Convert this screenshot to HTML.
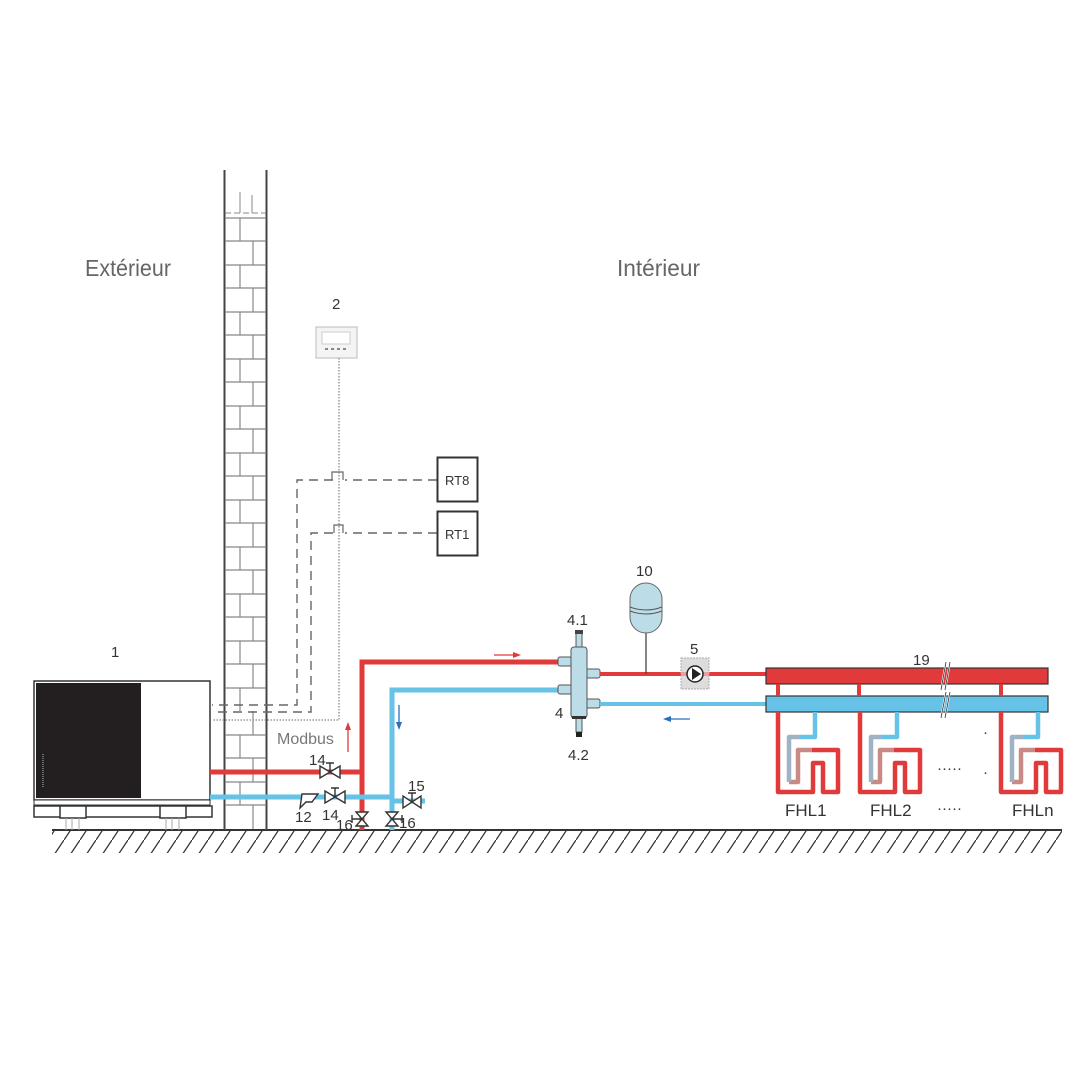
<!DOCTYPE html>
<html><head><meta charset="utf-8"><style>
html,body{margin:0;padding:0;background:#fff;}
svg{display:block;font-family:"Liberation Sans",sans-serif;}
</style></head><body>
<svg width="1080" height="1080" viewBox="0 0 1080 1080" xmlns="http://www.w3.org/2000/svg">
<defs>
<pattern id="hatch" width="16" height="24" patternUnits="userSpaceOnUse">
<line x1="0" y1="24" x2="16" y2="0" stroke="#333" stroke-width="1.3"/>
</pattern>
<g id="loop" fill="none" stroke-linejoin="round" stroke-width="4.5">
<path d="M778,712 V792 H813 V763 H823 V792 H838 V750 H812" stroke="#e03a3a"/>
<path d="M812,750 H798 V782 H789" stroke="#c98a86"/>
<path d="M789,782 V737 H800" stroke="#9fb3c4"/>
<path d="M800,737 H815 V712" stroke="#66c2e6"/>
</g>
</defs>

<text x="85" y="276" font-size="23" fill="#666" textLength="86" lengthAdjust="spacingAndGlyphs">Extérieur</text>
<text x="617" y="276" font-size="23" fill="#666" textLength="83" lengthAdjust="spacingAndGlyphs">Intérieur</text>

<rect x="52" y="831" width="1010" height="22" fill="url(#hatch)"/>
<rect x="52" y="829" width="1010" height="2" fill="#333"/>

<g stroke="#444" fill="none">
<line x1="224.5" y1="170" x2="224.5" y2="830" stroke-width="2"/>
<line x1="266.5" y1="170" x2="266.5" y2="830" stroke-width="2"/>
<line x1="240" y1="192" x2="240" y2="213" stroke="#888"/>
<line x1="252" y1="195" x2="252" y2="213" stroke="#888"/>
<line x1="225" y1="213" x2="266" y2="213" stroke="#888" stroke-dasharray="6,3"/>
</g>
<g stroke="#888" stroke-width="1.2">
<line x1="225" y1="218" x2="266" y2="218"/>
<line x1="225" y1="241" x2="266" y2="241"/><line x1="225" y1="265" x2="266" y2="265"/>
<line x1="225" y1="288" x2="266" y2="288"/><line x1="225" y1="312" x2="266" y2="312"/>
<line x1="225" y1="335" x2="266" y2="335"/><line x1="225" y1="359" x2="266" y2="359"/>
<line x1="225" y1="382" x2="266" y2="382"/><line x1="225" y1="406" x2="266" y2="406"/>
<line x1="225" y1="429" x2="266" y2="429"/><line x1="225" y1="453" x2="266" y2="453"/>
<line x1="225" y1="476" x2="266" y2="476"/><line x1="225" y1="500" x2="266" y2="500"/>
<line x1="225" y1="523" x2="266" y2="523"/><line x1="225" y1="547" x2="266" y2="547"/>
<line x1="225" y1="570" x2="266" y2="570"/><line x1="225" y1="594" x2="266" y2="594"/>
<line x1="225" y1="617" x2="266" y2="617"/><line x1="225" y1="641" x2="266" y2="641"/>
<line x1="225" y1="664" x2="266" y2="664"/><line x1="225" y1="688" x2="266" y2="688"/>
<line x1="225" y1="735" x2="266" y2="735"/><line x1="225" y1="758" x2="266" y2="758"/>
<line x1="225" y1="782" x2="266" y2="782"/><line x1="225" y1="805" x2="266" y2="805"/>
<path d="M240,218V241 M253,241V265 M240,265V288 M253,288V312 M240,312V335 M253,335V359 M240,359V382 M253,382V406 M240,406V429 M253,429V453 M240,453V476 M253,476V500 M240,500V523 M253,523V547 M240,547V570 M253,570V594 M240,594V617 M253,617V641 M240,641V664 M253,664V688 M240,688V711 M253,711V735 M240,735V758 M253,758V782 M240,782V805 M253,805V829" fill="none"/>
</g>

<text x="332" y="309" font-size="15" fill="#333">2</text>
<rect x="316" y="327" width="41" height="31" fill="#f4f4f4" stroke="#bbb"/>
<rect x="322" y="332" width="28" height="12" fill="#fff" stroke="#ccc"/>
<g fill="#888"><rect x="325" y="348" width="3" height="2"/><rect x="331" y="348" width="3" height="2"/><rect x="337" y="348" width="3" height="2"/><rect x="343" y="348" width="3" height="2"/></g>
<path d="M339,358 V720 H212" fill="none" stroke="#888" stroke-width="1.3" stroke-dasharray="1.5,1.5"/>

<g fill="none" stroke="#666" stroke-width="1.4" stroke-dasharray="9,6">
<path d="M437,480 H345 M333,480 H297 V705 H212"/>
<path d="M437,533 H345 M333,533 H311 V712 H212"/>
</g>
<path d="M332,480 V472 H343 V480 M334,533 V525 H343 V533" fill="none" stroke="#666" stroke-width="1.2"/>
<rect x="437.5" y="457.5" width="40" height="44" fill="#fff" stroke="#333" stroke-width="2"/>
<text x="445" y="485" font-size="13" fill="#333">RT8</text>
<rect x="437.5" y="511.5" width="40" height="44" fill="#fff" stroke="#333" stroke-width="2"/>
<text x="445" y="539" font-size="13" fill="#333">RT1</text>
<text x="277" y="744" font-size="16" fill="#777">Modbus</text>

<text x="111" y="657" font-size="15" fill="#333">1</text>
<rect x="34" y="681" width="176" height="119" fill="#fff" stroke="#333" stroke-width="1.5"/>
<rect x="36" y="683" width="105" height="115" fill="#231f20"/>
<line x1="43" y1="754" x2="43" y2="788" stroke="#888" stroke-width="1.5" stroke-dasharray="1,1"/>
<rect x="34" y="800" width="176" height="5" fill="#fff" stroke="#333"/>
<rect x="34" y="806" width="178" height="11" fill="#fff" stroke="#333" stroke-width="1.5"/>
<rect x="60" y="806" width="26" height="12" fill="#fff" stroke="#333" stroke-width="1.5"/>
<rect x="160" y="806" width="26" height="12" fill="#fff" stroke="#333" stroke-width="1.5"/>
<g stroke="#aaa"><path d="M66,818V830 M72,818V830 M79,818V830 M166,818V830 M172,818V830 M179,818V830"/></g>

<g fill="none" stroke-width="5">
<path d="M210,772 H362" stroke="#e03a3a"/>
<path d="M362,830 V662 H560" stroke="#e03a3a"/>
<path d="M210,797 H392" stroke="#66c2e6"/>
<path d="M392,830 V690 H560" stroke="#66c2e6"/>
<path d="M392,801 H425" stroke="#66c2e6"/>
</g>
<g stroke-width="1.3">
<line x1="348" y1="752" x2="348" y2="725" stroke="#e03a3a"/><path d="M345,730 L348,722 L351,730Z" fill="#e03a3a"/>
<line x1="494" y1="655" x2="516" y2="655" stroke="#e03a3a"/><path d="M513,652 L521,655 L513,658Z" fill="#e03a3a"/>
<line x1="399" y1="705" x2="399" y2="725" stroke="#2a6fb8"/><path d="M396,722 L399,730 L402,722Z" fill="#2a6fb8"/>
<line x1="690" y1="719" x2="668" y2="719" stroke="#2a6fb8"/><path d="M671,716 L663,719 L671,722Z" fill="#2a6fb8"/>
</g>
<g fill="#fff" stroke="#333" stroke-width="1.4">
<path d="M320,766 L320,778 L340,766 L340,778Z"/><path d="M330,772 V763 M326,763 H334" fill="none"/>
<path d="M325,791 L325,803 L345,791 L345,803Z"/><path d="M335,797 V788 M331,788 H339" fill="none"/>
<path d="M403,796 L403,808 L421,796 L421,808Z"/><path d="M412,802 V793 M408,793 H416" fill="none"/>
<path d="M356,812 L368,812 L356,826 L368,826Z"/><path d="M352,815 V823 M352,819 H362" fill="none"/>
<path d="M386,812 L398,812 L386,826 L398,826Z"/><path d="M402,815 V823 M392,819 H402" fill="none"/>
<path d="M302,794 H318 L312,802 H306 L300,808 Z"/>
</g>
<g font-size="15" fill="#333">
<text x="309" y="765">14</text><text x="322" y="820">14</text>
<text x="295" y="822">12</text><text x="336" y="830">16</text>
<text x="399" y="828">16</text><text x="408" y="791">15</text>
</g>

<g stroke="#555" stroke-width="1">
<rect x="558" y="657" width="14" height="9" fill="#bcdde8" rx="2"/>
<rect x="558" y="685" width="14" height="9" fill="#bcdde8" rx="2"/>
<rect x="586" y="669" width="14" height="9" fill="#bcdde8" rx="2"/>
<rect x="586" y="699" width="14" height="9" fill="#bcdde8" rx="2"/>
<rect x="571" y="647" width="16" height="71" fill="#bcdde8" rx="3"/>
<rect x="576" y="633" width="6" height="14" fill="#bcdde8"/>
<rect x="576" y="718" width="6" height="14" fill="#bcdde8"/>
</g>
<rect x="575" y="630" width="8" height="4" fill="#444"/>
<rect x="576" y="732" width="6" height="5" fill="#222"/>
<rect x="572" y="716" width="14" height="3" fill="#333"/>
<text x="567" y="625" font-size="15" fill="#333">4.1</text>
<text x="555" y="718" font-size="15" fill="#333">4</text>
<text x="568" y="760" font-size="15" fill="#333">4.2</text>

<path d="M600,674 H766" stroke="#e03a3a" stroke-width="4"/>
<path d="M600,704 H766" stroke="#66c2e6" stroke-width="4"/>
<line x1="646" y1="633" x2="646" y2="674" stroke="#444" stroke-width="1.3"/>
<rect x="630" y="583" width="32" height="50" rx="16" fill="#bcdde8" stroke="#666"/>
<path d="M630,607 Q646,613 662,607 M630,611 Q646,617 662,611" fill="none" stroke="#555"/>
<text x="636" y="576" font-size="15" fill="#333">10</text>
<text x="690" y="654" font-size="15" fill="#333">5</text>
<rect x="681" y="658" width="28" height="31" fill="#ddd" stroke="#aaa" stroke-dasharray="2,1"/>
<path d="M681,674 H709" stroke="#e8a0a0" stroke-width="4"/>
<circle cx="695" cy="674" r="8" fill="#fff" stroke="#222" stroke-width="1.5"/>
<path d="M692,668 L701,674 L692,680Z" fill="#222"/>

<rect x="766" y="668" width="282" height="16" fill="#e03a3a" stroke="#333" stroke-width="1.2"/>
<rect x="766" y="696" width="282" height="16" fill="#66c2e6" stroke="#333" stroke-width="1.2"/>
<path d="M946,662 L941,690 M950,662 L945,690 M946,692 L941,718 M950,692 L945,718" stroke="#fff" stroke-width="2"/>
<path d="M946,662 L941,690 M950,662 L945,690 M946,692 L941,718 M950,692 L945,718" stroke="#333" stroke-width="0.8"/>
<text x="913" y="665" font-size="15" fill="#333">19</text>
<g fill="#e03a3a"><rect x="776" y="684" width="4" height="12"/><rect x="857" y="684" width="4" height="12"/><rect x="999" y="684" width="4" height="12"/></g>

<use href="#loop"/>
<use href="#loop" transform="translate(82,0)"/>
<use href="#loop" transform="translate(223,0)"/>
<text x="937" y="773" font-size="15" fill="#333">·····</text>
<text x="937" y="813" font-size="15" fill="#333">·····</text>
<text x="983" y="737" font-size="15" fill="#333">·</text>
<text x="983" y="777" font-size="15" fill="#333">·</text>
<g font-size="17" fill="#333">
<text x="785" y="816">FHL1</text><text x="870" y="816">FHL2</text><text x="1012" y="816">FHLn</text>
</g>
</svg>
</body></html>
